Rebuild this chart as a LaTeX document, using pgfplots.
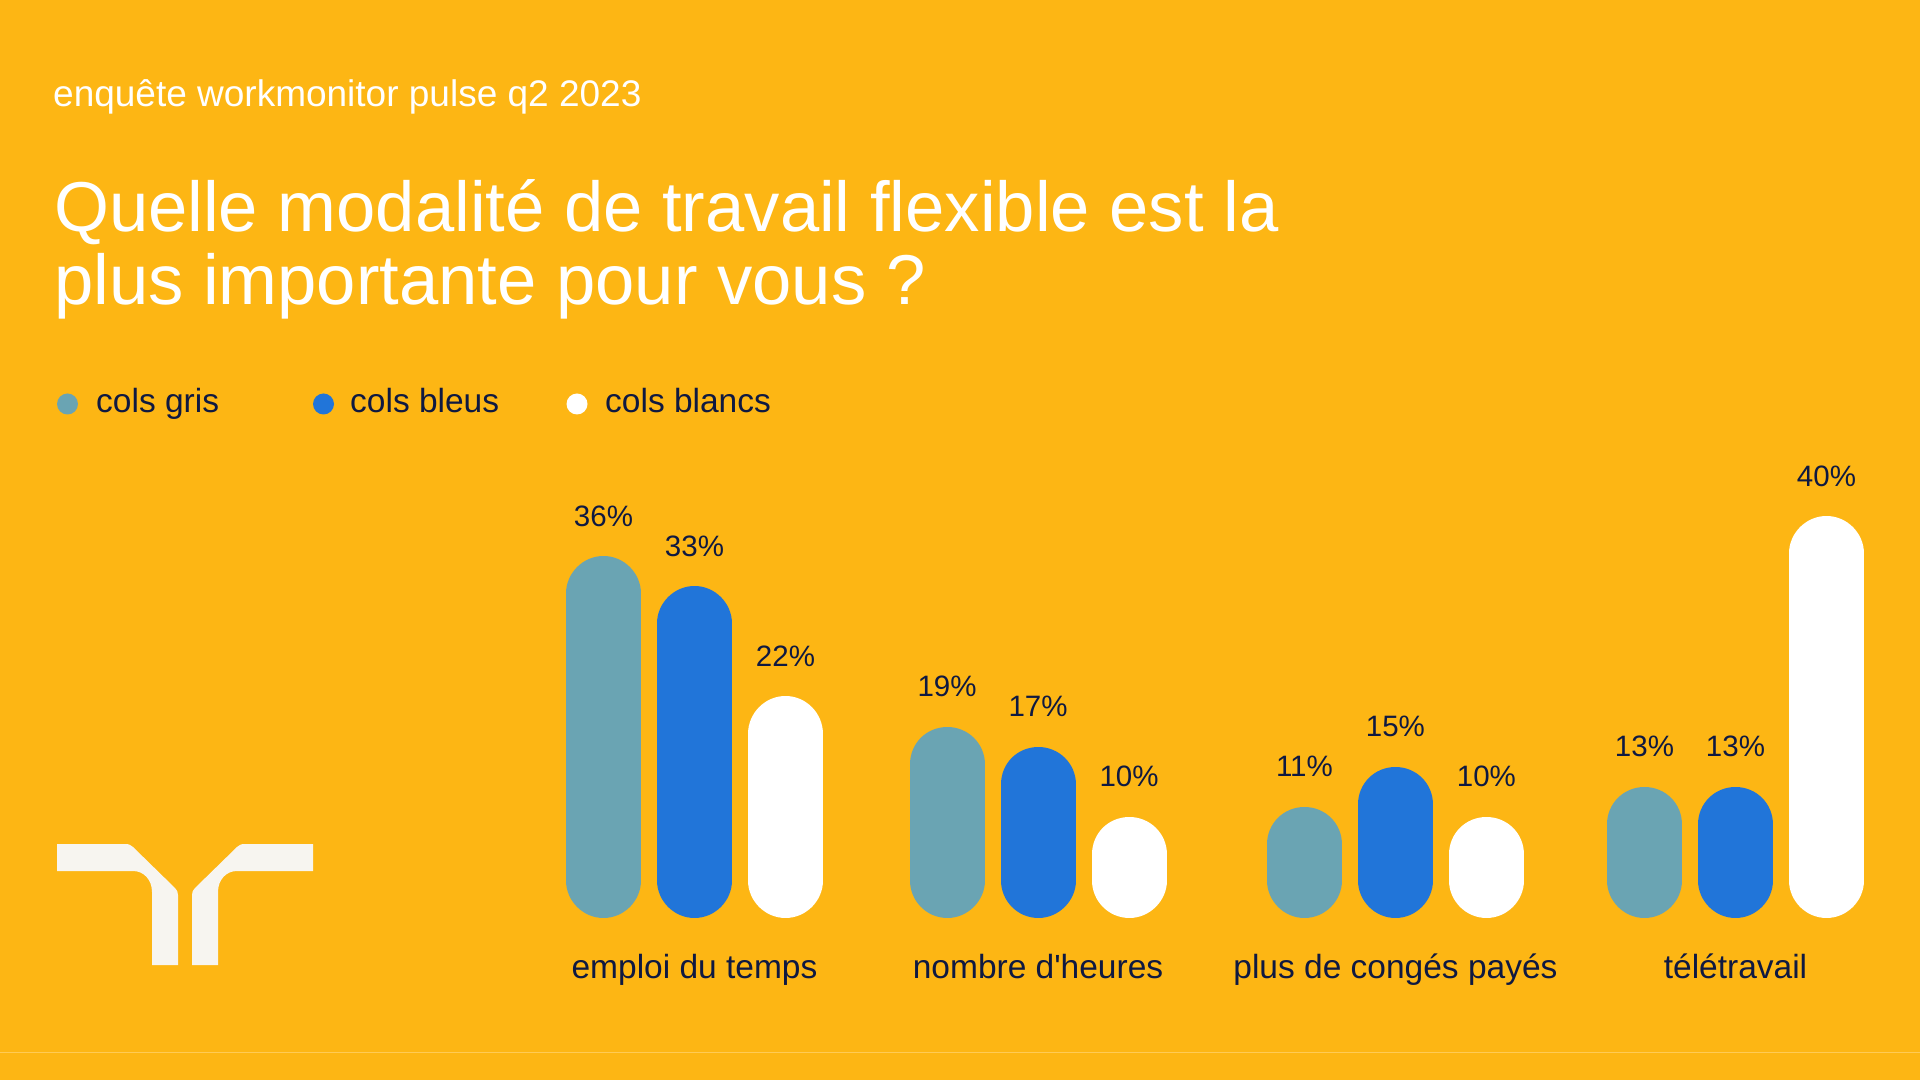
\documentclass[border=0pt]{standalone}
\usepackage{fontspec}
\setmainfont{Liberation Sans}
\newfontfamily\lib{Liberation Sans}
\usepackage{pgfplots}
\usepackage{pgfplotstable}
\pgfplotsset{compat=1.18}
\definecolor{bg}{HTML}{FDB614}
\definecolor{navy}{HTML}{0F1941}
\definecolor{grisc}{HTML}{6AA4B3}
\definecolor{bleuc}{HTML}{2175D9}
\definecolor{logoc}{HTML}{F7F5F0}
\definecolor{linec}{HTML}{FFCB55}

% x = position of each category group on the slide
\pgfplotstableread{
x v
0 36
0.99 19
2.02 11
3 13
}\gris
\pgfplotstableread{
x v
0 33
0.99 17
2.02 15
3 13
}\bleus
\pgfplotstableread{
x v
0 22
0.99 10
2.02 10
3 40
}\blancs

\begin{document}
\begin{tikzpicture}[x=1pt,y=1pt]
\fill[bg] (0,0) rectangle (1920,1080);
\draw[linec, line width=1pt] (0,28) -- (1920,28);
% titles
\node[anchor=base west, inner sep=0, text=white, font=\fontsize{37}{44}\selectfont] at (53,973) {enquête workmonitor pulse q2 2023};
\node[anchor=base west, inner sep=0, text=white, font=\fontsize{70.6}{74}\selectfont] at (54,848) {Quelle modalité de travail flexible est la};
\node[anchor=base west, inner sep=0, text=white, font=\fontsize{70.6}{74}\selectfont] at (54,775) {plus importante pour vous ?};
% legend
\fill[grisc] (67.5,676) circle (10.5);
\fill[bleuc] (323.5,676) circle (10.5);
\fill[white] (577,676) circle (10.5);
\node[anchor=base west, inner sep=0, text=navy, font=\fontsize{33.5}{40}\selectfont] at (96,667) {cols gris};
\node[anchor=base west, inner sep=0, text=navy, font=\fontsize{33.5}{40}\selectfont] at (350,667) {cols bleus};
\node[anchor=base west, inner sep=0, text=navy, font=\fontsize{33.5}{40}\selectfont] at (605,667) {cols blancs};
% logo
\def\logohalf{(57,236) -- (125,236) .. controls (129,236) and (131,235) .. (133,233) -- (175,192) .. controls (177,190) and (178,188) .. (178,185) -- (178,115) -- (152,115) -- (152,188) .. controls (152,200) and (144,209) .. (133,209) -- (57,209) -- cycle}
\fill[logoc] \logohalf;
\begin{scope}[xshift=370pt, xscale=-1]
\fill[logoc] \logohalf;
\end{scope}
\begin{axis}[
  at={(486.3pt,163pt)}, anchor=south west, scale only axis,
  width=1400pt, height=437pt,
  xmin=-0.6, xmax=3.434582, ymin=-3.7, ymax=40,
  enlargelimits=false, clip=false,
  ybar, bar width=0.01pt,
  axis line style={draw=none}, tick style={draw=none}, major tick length=0pt,
  ytick=\empty,
  xtick={0,0.99,2.02,3},
  xticklabels={emploi du temps, {\lib nombre d'heures}, plus de congés payés, télétravail},
  xticklabel style={anchor=base, yshift=-61pt, font=\fontsize{33.5}{40}\selectfont, text=navy},
  /pgf/number format/assume math mode=true,
  point meta=explicit,
  nodes near coords={\pgfmathprintnumber{\pgfplotspointmeta}\%},
  nodes near coords style={anchor=base, yshift=67.5pt, font=\fontsize{29.5}{35}\selectfont, text=navy},
  every axis plot/.append style={line width=75pt, line join=round},
]
\addplot[draw=grisc, fill=grisc, bar shift=-91pt] table[x=x, y expr=\thisrow{v}-7.4, meta=v] {\gris};
\addplot[draw=bleuc, fill=bleuc, bar shift=0pt] table[x=x, y expr=\thisrow{v}-7.4, meta=v] {\bleus};
\addplot[draw=white, fill=white, bar shift=91pt] table[x=x, y expr=\thisrow{v}-7.4, meta=v] {\blancs};
\end{axis}
\pgfresetboundingbox
\path[use as bounding box] (0,0) rectangle (1920,1080);
\end{tikzpicture}
\end{document}
